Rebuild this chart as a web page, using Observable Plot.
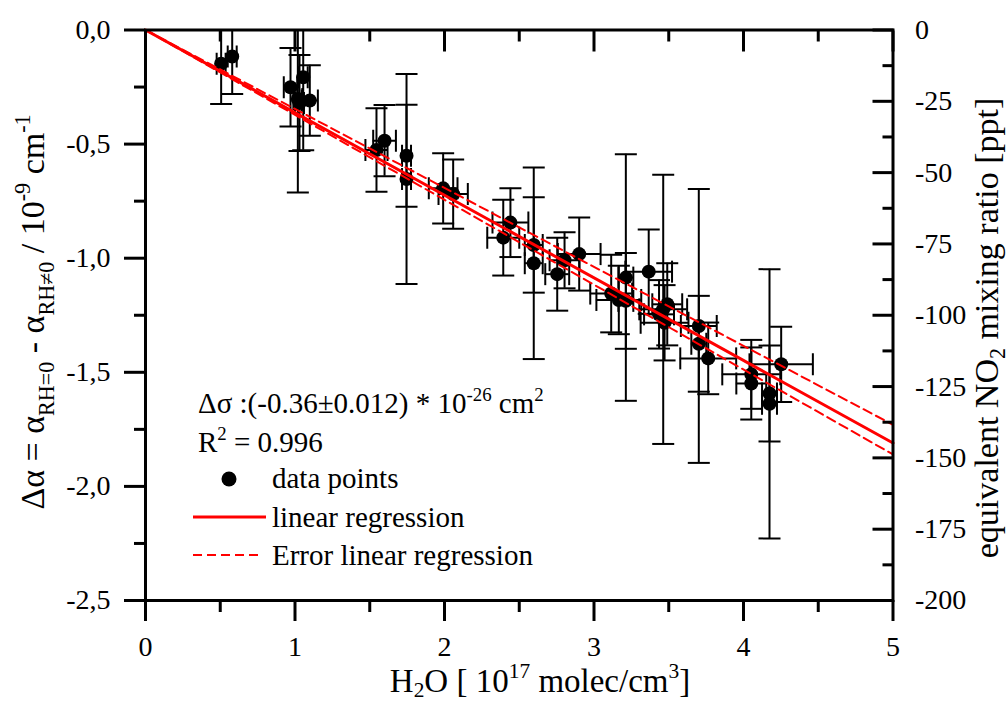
<!DOCTYPE html>
<html><head><meta charset="utf-8">
<script src="https://cdn.jsdelivr.net/npm/d3@7"></script>
<script src="https://cdn.jsdelivr.net/npm/@observablehq/plot@0.6"></script>
<style>
html,body{margin:0;padding:0;background:#fff;}
#chart{position:relative;width:1008px;height:702px;}
</style></head><body><div id="chart"></div>
<script>
// ---- data ----
const h2o      = [0.506,0.580,0.970,1.019,1.030,1.055,1.099,1.545,1.599,1.746,1.746,1.991,2.058,2.393,2.441,2.597,2.597,2.754,2.803,2.901,3.115,3.166,3.213,3.213,3.366,3.463,3.490,3.472,3.435,3.701,3.701,3.764,4.052,4.052,4.174,4.174,4.252];
const dAlpha   = [-0.148,-0.116,-0.251,-0.302,-0.320,-0.207,-0.309,-0.526,-0.485,-0.551,-0.653,-0.694,-0.719,-0.910,-0.844,-0.942,-1.022,-1.070,-1.009,-0.982,-1.155,-1.183,-1.085,-1.187,-1.059,-1.224,-1.202,-1.283,-1.246,-1.297,-1.375,-1.439,-1.509,-1.549,-1.593,-1.638,-1.465];
const h2oErr   = [0.03,0.03,0.045,0.03,0.03,0.03,0.054,0.074,0.076,0.03,0.03,0.096,0.098,0.107,0.12,0.06,0.06,0.08,0.10,0.143,0.14,0.15,0.05,0.05,0.156,0.16,0.10,0.16,0.10,0.12,0.05,0.187,0.194,0.10,0.05,0.05,0.212];
const dAlphaErr= [0.176,0.164,0.172,0.41,0.21,0.32,0.154,0.183,0.156,0.223,0.46,0.154,0.152,0.166,0.151,0.209,0.42,0.16,0.123,0.16,0.17,0.15,0.54,0.21,0.185,0.59,0.18,0.165,0.15,0.60,0.21,0.157,0.151,0.158,0.21,0.59,0.165];

const regSlope = -0.362;                 // linear regression (through origin)
const regSlopeBounds = [-0.346, -0.372]; // error lines
const regX = [0, 5];

const xTicks = [0, 1, 2, 3, 4, 5];
const xMinorTicks = [0.5, 1.5, 2.5, 3.5, 4.5];
const yTicks = [0, -0.5, -1, -1.5, -2, -2.5];
const yMinorTicks = [-0.25, -0.75, -1.25, -1.75, -2.25];
const pptTicks = [0, -25, -50, -75, -100, -125, -150, -175, -200];
const pptMinorTicks = [-12.5, -37.5, -62.5, -87.5, -112.5, -137.5, -162.5, -187.5];
const pptPerAlpha = 80;

const xLabelParts = [["H"],["2","sub"],["O [ 10"],["17","sup"],[" molec/cm"],["3","sup"],["]"]];
const yLabelParts = [["Δα = α"],["RH=0","sub"],[" - α"],["RH≠0","sub"],[" / 10"],["-9","sup"],[" cm"],["-1","sup"]];
const y2LabelParts = [["equivalent NO"],["2","sub"],[" mixing ratio [ppt]"]];
const fitTextParts = [["Δσ :(-0.36±0.012) * 10"],["-26","sup"],[" cm"],["2","sup"]];
const r2TextParts = [["R"],["2","sup"],[" = 0.996"]];
const legendLabels = ["data points", "linear regression", "Error linear regression"];

// ---- build ----
const pts = h2o.map((x, i) => ({x, y: dAlpha[i], ex: h2oErr[i], ey: dAlphaErr[i]}));
const fitLine = regX.map(x => ({x, y: x * regSlope}));
const errLines = regSlopeBounds.flatMap((s, k) => regX.map(x => ({x, y: x * s, k})));

const hCap = {draw(ctx, size) { const r = Math.sqrt(size / Math.PI); ctx.moveTo(-r, 0); ctx.lineTo(r, 0); }};
const vCap = {draw(ctx, size) { const r = Math.sqrt(size / Math.PI); ctx.moveTo(0, -r); ctx.lineTo(0, r); }};

const fmtAlpha = d => (d < 0 ? "-" : "") + Math.abs(d).toFixed(1).replace(".", ",");
const fmtPpt = d => (d < 0 ? "-" : "") + Math.abs(Math.round(d));
const FONT = "'Liberation Serif','Times New Roman',serif";

const plot = Plot.plot({
  width: 1008, height: 702,
  marginLeft: 145, marginRight: 115.5, marginTop: 29.5, marginBottom: 102,
  x: {domain: [0, 5]},
  y: {domain: [-2.5, 0]},
  style: {fontFamily: FONT, fontSize: "28px", color: "black", background: "white", overflow: "visible"},
  marks: [
    // error bars
    Plot.ruleX(pts, {x: "x", y1: d => d.y - d.ey, y2: d => d.y + d.ey, stroke: "black", strokeWidth: 2, clip: true}),
    Plot.ruleY(pts, {y: "y", x1: d => d.x - d.ex, x2: d => d.x + d.ex, stroke: "black", strokeWidth: 2, clip: true}),
    Plot.dot(pts, {x: "x", y: d => d.y + d.ey, symbol: hCap, r: 11, stroke: "black", strokeWidth: 2, fill: "none", clip: true}),
    Plot.dot(pts, {x: "x", y: d => d.y - d.ey, symbol: hCap, r: 11, stroke: "black", strokeWidth: 2, fill: "none", clip: true}),
    Plot.dot(pts, {x: d => d.x + d.ex, y: "y", symbol: vCap, r: 11, stroke: "black", strokeWidth: 2, fill: "none", clip: true}),
    Plot.dot(pts, {x: d => d.x - d.ex, y: "y", symbol: vCap, r: 11, stroke: "black", strokeWidth: 2, fill: "none", clip: true}),
    // points
    Plot.dot(pts, {x: "x", y: "y", r: 7, fill: "black", stroke: "none"}),
    // regression
    Plot.line(errLines, {x: "x", y: "y", z: "k", stroke: "#ff0000", strokeWidth: 2, strokeDasharray: "9,5"}),
    Plot.line(fitLine, {x: "x", y: "y", stroke: "#ff0000", strokeWidth: 3}),
    // axes
    Plot.axisX({anchor: "bottom", ticks: xTicks, tickSize: 21, tickPadding: 15, strokeWidth: 3, fontSize: 28, tickFormat: d => String(d), label: null}),
    Plot.axisX({anchor: "bottom", ticks: xMinorTicks, tickSize: 12, strokeWidth: 3, tickFormat: () => "", label: null}),
    Plot.axisX({anchor: "top", ticks: xTicks, tickSize: -21, strokeWidth: 3, tickFormat: () => "", label: null}),
    Plot.axisX({anchor: "top", ticks: xMinorTicks, tickSize: -11, strokeWidth: 3, tickFormat: () => "", label: null}),
    Plot.axisY({anchor: "left", ticks: yTicks, tickSize: 21, tickPadding: 14, strokeWidth: 3, fontSize: 28, tickFormat: fmtAlpha, label: null}),
    Plot.axisY({anchor: "left", ticks: yMinorTicks, tickSize: 11, strokeWidth: 3, tickFormat: () => "", label: null}),
    Plot.axisY({anchor: "right", ticks: pptTicks.map(p => p / pptPerAlpha), tickSize: -21, tickPadding: 43, strokeWidth: 3, fontSize: 28, tickFormat: d => fmtPpt(d * pptPerAlpha), label: null}),
    Plot.axisY({anchor: "right", ticks: pptMinorTicks.map(p => p / pptPerAlpha), tickSize: -11, strokeWidth: 3, tickFormat: () => "", label: null}),
    Plot.frame({stroke: "black", strokeWidth: 3})
  ]
});
document.getElementById("chart").appendChild(plot);

// ---- rich text labels & legend ----
const svg = d3.select(plot);
function richText(parent, parts, size, anchor, subOff = 0.28) {
  const t = parent.append("text").attr("font-size", size).attr("font-family", FONT)
    .attr("fill", "black").attr("text-anchor", anchor);
  let cur = 0;
  for (const [s, kind] of parts) {
    const off = kind === "sub" ? subOff * size : kind === "sup" ? -0.42 * size : 0;
    t.append("tspan").attr("dy", off - cur).attr("font-size", kind ? size * 0.65 : size).text(s);
    cur = off;
  }
  return t;
}
richText(svg.append("g").attr("transform", "translate(540,692)"), xLabelParts, 33, "middle", 0.15);
richText(svg.append("g").attr("transform", "translate(44,312) rotate(-90)"), yLabelParts, 34, "middle");
richText(svg.append("g").attr("transform", "translate(998,328) rotate(-90)"), y2LabelParts, 34, "middle", 0.2);

const lg = svg.append("g");
richText(lg.append("g").attr("transform", "translate(198,413)"), fitTextParts, 29, "start");
richText(lg.append("g").attr("transform", "translate(198,452)"), r2TextParts, 29, "start");
lg.append("circle").attr("cx", 229).attr("cy", 479).attr("r", 7.5).attr("fill", "black");
lg.append("line").attr("x1", 193).attr("x2", 266).attr("y1", 517).attr("y2", 517).attr("stroke", "#ff0000").attr("stroke-width", 3);
lg.append("line").attr("x1", 193).attr("x2", 262).attr("y1", 555).attr("y2", 555).attr("stroke", "#ff0000").attr("stroke-width", 2).attr("stroke-dasharray", "9,5");
legendLabels.forEach((s, i) => {
  richText(lg.append("g").attr("transform", `translate(272,${488 + i * 38.5})`), [[s]], 29, "start");
});
</script></body></html>
